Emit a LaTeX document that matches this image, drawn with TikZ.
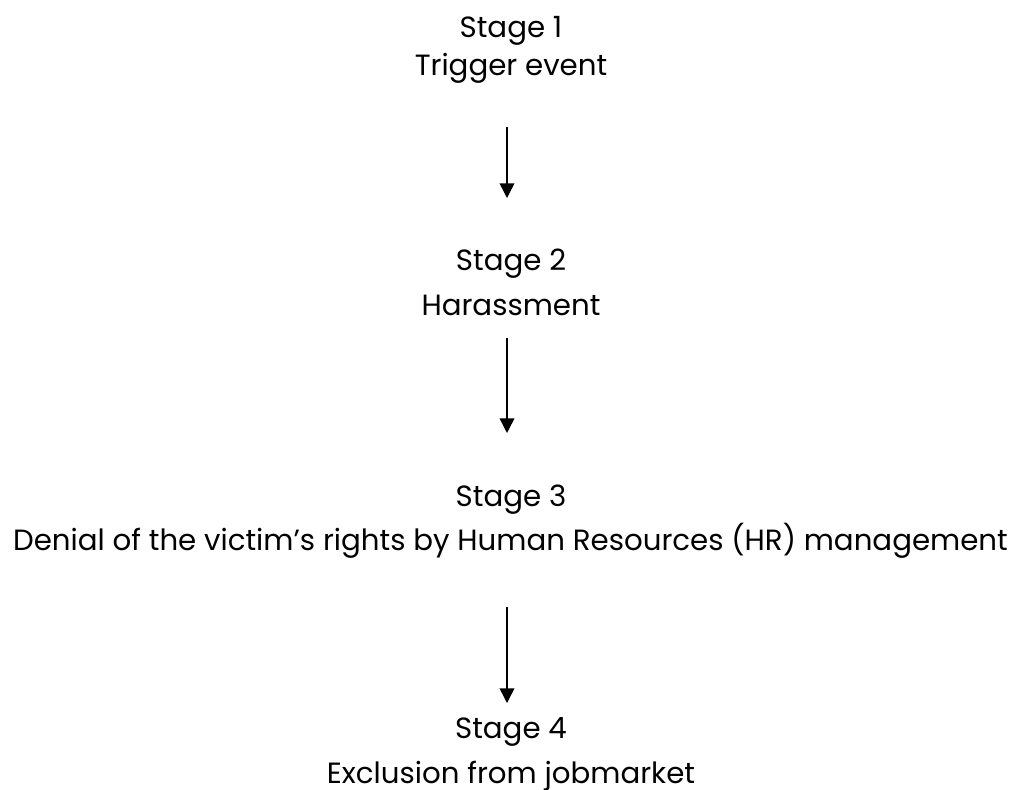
\documentclass[tikz,border=0pt]{standalone}
\usepackage{fontspec}
\setmainfont{Poppins}
\usetikzlibrary{arrows.meta,calc}
\newsavebox\measbox
\sbox\measbox{\fontsize{24}{29}\selectfont Denial of the victim’s rights by Human Resources (HR) management}
\pgfmathsetmacro\fs{746/\wd\measbox*24}
\tikzset{
  txt/.style={inner sep=0pt, anchor=base, font=\fontsize{\fs pt}{\fs pt}\selectfont},
  arr/.style={line width=1.1pt, -{Triangle[length=11pt,width=11pt]}}
}
\begin{document}
\begin{tikzpicture}[x=0.75pt,y=-0.75pt]
\useasboundingbox (0,0) rectangle (1019,789);
\node[txt] (s1a) at (511,37) {Stage 1};
\node[txt] (s1b) at (511,75) {Trigger event};
\node[txt] (s2a) at (511,270) {Stage 2};
\node[txt] (s2b) at (511,315) {Harassment};
\node[txt] (s3a) at (511,506) {Stage 3};
\node[txt] (s3b) at (510.5,550) {Denial of the victim’s rights by Human Resources (HR) management};
\node[txt] (s4a) at (511,738) {Stage 4};
\node[txt] (s4b) at (511,783) {Exclusion from jobmarket};
\draw[arr] ($(s1b.base)+(-4,52)$) -- ($(s2a.base)+(-4,-72)$);
\draw[arr] ($(s2b.base)+(-4,23)$) -- ($(s3a.base)+(-4,-73)$);
\draw[arr] ($(s3b.base)+(-3.5,57)$) -- ($(s4a.base)+(-4,-35)$);
\end{tikzpicture}
\end{document}
